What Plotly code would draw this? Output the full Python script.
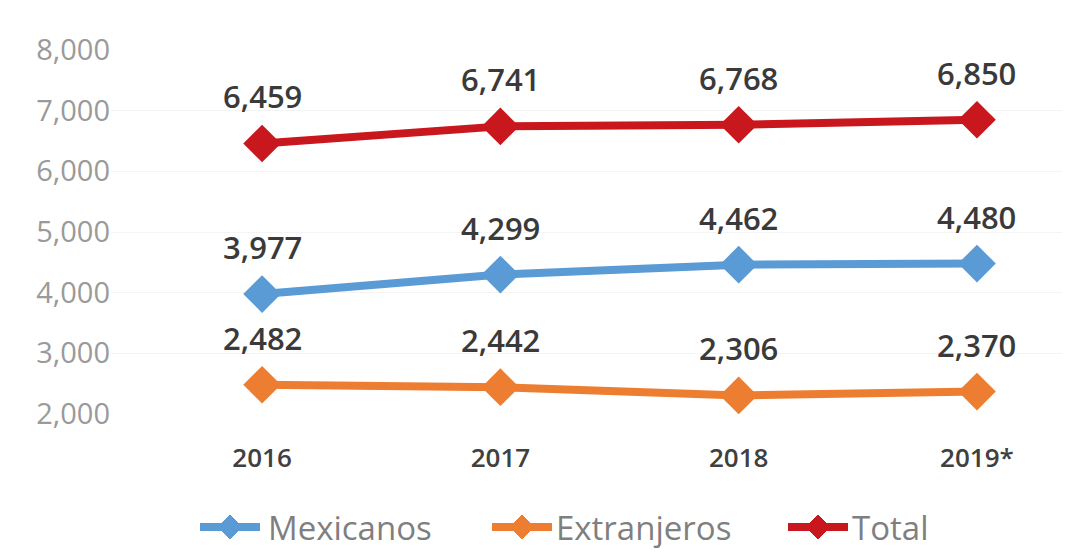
import plotly.graph_objects as go

years = ["2016", "2017", "2018", "2019*"]
mexicanos = [3977, 4299, 4462, 4480]
extranjeros = [2482, 2442, 2306, 2370]
total = [6459, 6741, 6768, 6850]
y_ticks = [2000, 3000, 4000, 5000, 6000, 7000, 8000]

series_names = ["Mexicanos", "Extranjeros", "Total"]
series_values = [mexicanos, extranjeros, total]
series_colors = ["#5B9BD5", "#ED7D31", "#C9171E"]

W, H = 1070, 552
ML, MR, MT, MB = 103, 10, 42, 146
PW, PH = W - ML - MR, H - MT - MB

fig = go.Figure()
annotations = []
shapes = []
for name, vals, color in zip(series_names, series_values, series_colors):
    fig.add_trace(go.Scatter(
        x=years, y=vals, name=name, mode="lines+markers",
        line=dict(color=color, width=8),
        marker=dict(symbol="diamond", size=29, color=color),
        showlegend=False,
    ))
    for i, v in enumerate(vals):
        annotations.append(dict(
            x=i, y=v, xref="x", yref="y", text=f"{v:,}", showarrow=False, yshift=47,
            font=dict(family="Open Sans", size=31, color="#3A3A3A", weight=600),
        ))

# custom legend (pixel layout -> paper coords)
def px_x(p):
    return (p - ML) / PW

def px_y(p):
    return (H - MB - p) / PH

legend_items = [(192, 258), (484, 546), (780, 842)]
ly = 519
for (sx, tx), name, color in zip(legend_items, series_names, series_colors):
    shapes.append(dict(type="line", xref="paper", yref="paper",
                       x0=px_x(sx), x1=px_x(sx + 60), y0=px_y(ly), y1=px_y(ly),
                       line=dict(color=color, width=8)))
    cx, hs = sx + 30, 12
    path = (f"M {px_x(cx - hs)} {px_y(ly)} L {px_x(cx)} {px_y(ly - hs)} "
            f"L {px_x(cx + hs)} {px_y(ly)} L {px_x(cx)} {px_y(ly + hs)} Z")
    shapes.append(dict(type="path", xref="paper", yref="paper", path=path,
                       fillcolor=color, line=dict(color=color, width=1)))
    annotations.append(dict(x=px_x(tx), y=px_y(ly), xref="paper", yref="paper",
                            text=name, showarrow=False, xanchor="left", yanchor="middle",
                            font=dict(family="Open Sans", size=33, color="#7F7F7F")))

fig.update_layout(
    width=W, height=H,
    margin=dict(l=ML, r=MR, t=MT, b=MB),
    paper_bgcolor="white", plot_bgcolor="white",
    annotations=annotations, shapes=shapes,
    showlegend=False,
    xaxis=dict(type="category", range=[-0.634, 3.382], showgrid=False, showline=False,
               zeroline=False, ticks="", ticklabelstandoff=26,
               tickfont=dict(family="Open Sans", size=26, color="#404040", weight=600)),
    yaxis=dict(range=[2000, 8000], tickvals=y_ticks, tickformat=",",
               showgrid=True, gridcolor="#F4F4F4", zeroline=False, showline=False,
               tickfont=dict(family="Open Sans", size=29, color="#9A9A9A")),
)

fig.write_html("out.html")
